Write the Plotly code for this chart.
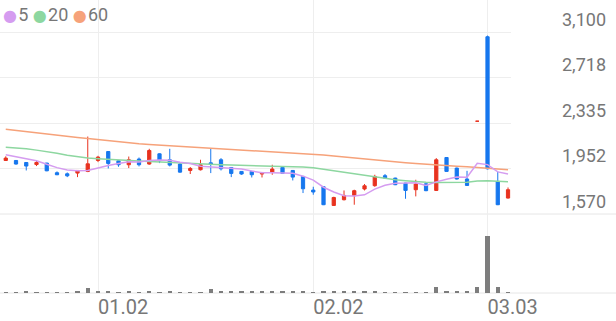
import plotly.graph_objects as go

# ---------------- data ----------------
dates = [
    "2025-12-17", "2025-12-18", "2025-12-19", "2025-12-22", "2025-12-23", "2025-12-24",
    "2025-12-26", "2025-12-29", "2025-12-30",
    "2026-01-02", "2026-01-05", "2026-01-06", "2026-01-07", "2026-01-08", "2026-01-09",
    "2026-01-12", "2026-01-13", "2026-01-14", "2026-01-15", "2026-01-16",
    "2026-01-19", "2026-01-20", "2026-01-21", "2026-01-22", "2026-01-23",
    "2026-01-26", "2026-01-27", "2026-01-28", "2026-01-29", "2026-01-30",
    "2026-02-02", "2026-02-03", "2026-02-04", "2026-02-05", "2026-02-06",
    "2026-02-09", "2026-02-10", "2026-02-11", "2026-02-12", "2026-02-13",
    "2026-02-19", "2026-02-20",
    "2026-02-23", "2026-02-24", "2026-02-25", "2026-02-26", "2026-02-27",
    "2026-03-03", "2026-03-04", "2026-03-05",
]
opens = [2020, 2020, 2003, 1986, 1998, 1917, 1908, 1914, 1928, 2020, 2095, 2017, 1984, 2032, 1990,
         2076, 2026, 1990, 1936, 1942, 2000, 2026, 1961, 1928, 1928, 1906, 1919, 1961, 1936, 1886,
         1771, 1799, 1642, 1690, 1724, 1780, 1808, 1892, 1872, 1830, 1774, 1824, 1768, 2045, 1956,
         1864, 2350, 3060, 1844, 1704]
highs = [2055, 2022, 2005, 2015, 2000, 1928, 1919, 1940, 2221, 2059, 2098, 2020, 2053, 2045, 2118,
         2080, 2118, 1995, 1965, 2026, 2118, 2040, 1965, 1930, 1930, 1922, 1984, 1965, 1940, 1890,
         1799, 1802, 1715, 1768, 1774, 1822, 1900, 1906, 1875, 1832, 1858, 1828, 2040, 2048, 1960,
         1933, 2350, 3070, 1928, 1793]
lows = [2017, 1985, 1936, 1973, 1930, 1897, 1880, 1880, 1922, 2006, 1953, 1967, 1956, 1970, 1984,
        1998, 1970, 1918, 1906, 1936, 1914, 1936, 1880, 1900, 1877, 1877, 1900, 1906, 1852, 1746,
        1732, 1645, 1638, 1684, 1648, 1768, 1799, 1870, 1813, 1698, 1718, 1762, 1765, 1925, 1860,
        1806, 2350, 1945, 1645, 1700]
closes = [2040, 1990, 1973, 2003, 1933, 1900, 1891, 1936, 1992, 2048, 1995, 1984, 2026, 1984, 2104,
          2017, 1981, 1922, 1953, 1984, 1990, 1950, 1911, 1906, 1900, 1919, 1948, 1911, 1880, 1782,
          1755, 1648, 1709, 1726, 1766, 1807, 1886, 1872, 1816, 1768, 1822, 1766, 2026, 1928, 1864,
          1810, 2350, 1950, 1648, 1774]
volumes = [90000, 100000, 110000, 90000, 100000, 90000, 100000, 110000, 500000, 150000,
           130000, 100000, 120000, 100000, 230000, 100000, 200000, 100000, 100000, 100000,
           370000, 130000, 120000, 120000, 120000, 120000, 120000, 130000, 150000, 200000,
           70000, 230000, 150000, 120000, 120000, 120000, 170000, 80000, 80000, 80000,
           80000, 80000, 570000, 150000, 150000, 230000, 630000, 5700000, 630000, 70000]
ma5 = [2068, 2051, 2034, 2017, 1988, 1960, 1940, 1933, 1935, 1958, 1978, 1995, 2010, 2007, 2019,
       2023, 2022, 2006, 1995, 1971, 1966, 1960, 1958, 1948, 1931, 1917, 1917, 1917, 1912, 1888,
       1855, 1795, 1755, 1724, 1721, 1731, 1779, 1811, 1829, 1830, 1833, 1809, 1840, 1862, 1881,
       1879, 1996, 1985, 1924, 1906]
ma20 = [2132, 2126, 2118, 2107, 2095, 2080, 2064, 2051, 2040, 2034, 2028, 2023, 2017, 2015, 2012,
        2009, 2006, 2002, 1998, 1994, 1990, 1985, 1981, 1977, 1974, 1972, 1971, 1970, 1969, 1965,
        1959, 1946, 1933, 1921, 1908, 1896, 1883, 1870, 1858, 1850, 1841, 1837, 1834, 1833, 1833,
        1837, 1847, 1850, 1845, 1841]
ma60 = [2283, 2274, 2265, 2256, 2247, 2236, 2225, 2214, 2204, 2194, 2185, 2175, 2167, 2160, 2154,
        2149, 2145, 2141, 2137, 2131, 2126, 2122, 2117, 2112, 2106, 2101, 2096, 2092, 2087, 2082,
        2074, 2066, 2058, 2049, 2042, 2034, 2026, 2017, 2009, 2001, 1994, 1987, 1981, 1976, 1971,
        1967, 1963, 1956, 1949, 1942]
price_ticks = [1570, 1952.5, 2335, 2717.5, 3100]
price_tick_text = ["1,570", "1,952", "2,335", "2,718", "3,100"]
date_ticks = ["2026-01-02", "2026-02-02", "2026-03-03"]
date_tick_text = ["01.02", "02.02", "03.03"]
ma_names = ["5", "20", "60"]

# ---------------- style ----------------
RED = "#e8321f"
BLUE = "#1677ee"
MA_COLORS = ["#d59cf0", "#8dd7a0", "#f6a27a"]
GRID = "#eeeeee"
TEXT = "#777777"
FONT = "Roboto"

W, H = 616, 321
PLOT_W, PLOT_H = 511, 293
SPLIT = 79 / PLOT_H  # volume panel height share

fig = go.Figure()

for vals, col, name in zip([ma60, ma20, ma5], MA_COLORS[::-1], ma_names[::-1]):
    fig.add_trace(go.Scatter(x=dates, y=vals, mode="lines", name=name,
                             line=dict(color=col, width=1.5), hoverinfo="skip",
                             showlegend=False, xaxis="x", yaxis="y"))

fig.add_trace(go.Candlestick(
    x=dates, open=opens, high=highs, low=lows, close=closes,
    increasing=dict(line=dict(color=RED, width=1), fillcolor=RED),
    decreasing=dict(line=dict(color=BLUE, width=1), fillcolor=BLUE),
    whiskerwidth=0, showlegend=False, hoverinfo="skip", xaxis="x", yaxis="y"))

fig.add_trace(go.Bar(x=dates, y=volumes, marker=dict(color="#7d7d7d", line=dict(width=0)),
                     width=0.4, showlegend=False, hoverinfo="skip", xaxis="x2", yaxis="y2"))

xr = [-0.561, 49.29]
top_price = 1570 + 214 * (1530 / 182)

legend_text = " ".join(
    f'<span style="color:{c};font-size:16px;font-family:DejaVu Sans">●</span>'
    f'<span style="font-size:5px"> </span>{n}'
    for c, n in zip(MA_COLORS, ma_names))

fig.update_layout(
    width=W, height=H,
    margin=dict(l=0, r=W - PLOT_W, t=0, b=H - PLOT_H),
    paper_bgcolor="white", plot_bgcolor="white",
    font=dict(family=FONT, color=TEXT),
    boxgap=0.55,
    bargap=0,
    xaxis=dict(type="category", range=xr, domain=[0, 1], anchor="y",
               tickvals=date_ticks, ticktext=date_tick_text, showticklabels=False,
               showgrid=True, gridcolor=GRID, gridwidth=1, zeroline=False, showline=False,
               ticks="", rangeslider=dict(visible=False), fixedrange=True),
    xaxis2=dict(type="category", range=xr, domain=[0, 1], anchor="y2", matches="x",
                tickvals=date_ticks, ticktext=date_tick_text, showticklabels=True,
                ticklabelposition="outside right",
                tickfont=dict(family=FONT, size=20, color=TEXT),
                showgrid=True, gridcolor=GRID, gridwidth=1, zeroline=False, showline=False,
                ticks=""),
    yaxis=dict(domain=[SPLIT, 1], range=[1570, top_price], anchor="x", side="right",
               tickvals=price_ticks, ticktext=price_tick_text,
               ticklabelposition="outside top", ticklabelstandoff=50,
               tickfont=dict(family=FONT, size=18, color=TEXT),
               showgrid=True, gridcolor=GRID, gridwidth=1, zeroline=False, showline=False,
               ticks=""),
    yaxis2=dict(domain=[0, SPLIT], range=[0, 7900000], anchor="x2",
                showgrid=False, showticklabels=False, zeroline=False, showline=False, ticks=""),
    shapes=[
        dict(type="line", xref="paper", yref="paper", x0=0, x1=W / PLOT_W, y0=SPLIT, y1=SPLIT,
             line=dict(color="#e6e6e6", width=1), layer="below"),
        dict(type="line", xref="paper", yref="paper", x0=0, x1=W / PLOT_W, y0=0, y1=0,
             line=dict(color="#e6e6e6", width=1), layer="below"),
    ],
    annotations=[
        dict(text=legend_text, xref="paper", yref="paper", x=0, y=1 - 15 / PLOT_H,
             xanchor="left", yanchor="middle", showarrow=False, xshift=1,
             font=dict(family=FONT, size=18, color=TEXT)),
    ],
)

fig.write_html("out.html")
